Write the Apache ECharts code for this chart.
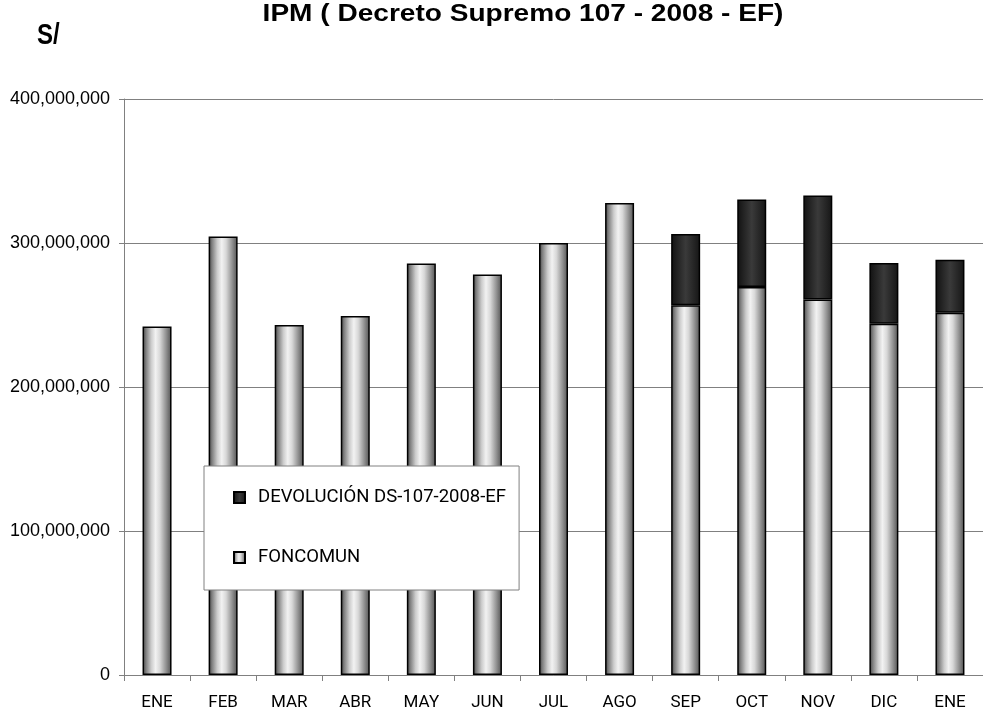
<!DOCTYPE html>
<html>
<head>
<meta charset="utf-8">
<script src="https://cdn.jsdelivr.net/npm/echarts@6/dist/echarts.min.js"></script>
<style>
  html, body { margin: 0; padding: 0; background: #fff; }
  #main { width: 983px; height: 711px; }
</style>
</head>
<body>
<div id="main"></div>
<script>
var chartDom = document.getElementById('main');
var myChart = echarts.init(chartDom);
var option;

const months = ['ENE', 'FEB', 'MAR', 'ABR', 'MAY', 'JUN', 'JUL', 'AGO', 'SEP', 'OCT', 'NOV', 'DIC', 'ENE'];
// soles
const foncomun = [
  242000000, 304500000, 243000000, 249300000, 285800000, 278200000, 300000000,
  327700000, 256700000, 269400000, 260700000, 244000000, 251600000
];
const devolucion = [
  0, 0, 0, 0, 0, 0, 0, 0, 49500000, 60800000, 72300000, 42100000, 36800000
];
const yTicks = [0, 100000000, 200000000, 300000000, 400000000];

const lightBar = new echarts.graphic.LinearGradient(0, 0, 1, 0, [
  { offset: 0, color: '#404040' },
  { offset: 0.12, color: '#808080' },
  { offset: 0.3, color: '#cccccc' },
  { offset: 0.45, color: '#f2f2f2' },
  { offset: 0.6, color: '#d8d8d8' },
  { offset: 0.8, color: '#959595' },
  { offset: 1, color: '#505050' }
]);
const darkBar = new echarts.graphic.LinearGradient(0, 0, 1, 0, [
  { offset: 0, color: '#111111' },
  { offset: 0.5, color: '#3a3a3a' },
  { offset: 1, color: '#151515' }
]);

option = {
  backgroundColor: '#fff',
  animation: false,
  textStyle: { fontFamily: 'Liberation Sans, Arial, sans-serif' },
  graphic: {
    elements: [
      {
        type: 'text',
        x: 523,
        y: 15,
        scaleX: 1.22,
        style: {
          text: 'IPM ( Decreto Supremo 107 - 2008 - EF)',
          font: 'bold 23px "Liberation Sans", Arial, sans-serif',
          fill: '#000',
          align: 'center',
          verticalAlign: 'middle'
        }
      },
      {
        type: 'text',
        x: 37,
        y: 36,
        scaleX: 0.8,
        style: {
          text: 'S/',
          font: 'bold 30px "Liberation Sans", Arial, sans-serif',
          fill: '#000',
          align: 'left',
          verticalAlign: 'middle'
        }
      }
    ]
  },
  legend: {
    data: ['DEVOLUCIÓN DS-107-2008-EF', 'FONCOMUN'],
    orient: 'vertical',
    left: 204,
    top: 466,
    icon: 'rect',
    itemWidth: 11,
    itemHeight: 11,
    itemGap: 41,
    padding: [22, 13, 23, 29],
    backgroundColor: '#fff',
    borderColor: '#808080',
    borderWidth: 1,
    borderRadius: 0,
    textStyle: { fontSize: 18.5, color: '#000', fontFamily: 'Roboto', padding: [0, 0, 0, 8] }
  },
  grid: {
    left: 124,
    top: 99,
    width: 871,
    height: 577,
    containLabel: false
  },
  xAxis: {
    type: 'category',
    data: months,
    boundaryGap: true,
    axisLine: { show: true, lineStyle: { color: '#808080', width: 1 } },
    axisTick: { show: true, length: 6, lineStyle: { color: '#808080' } },
    axisLabel: { fontSize: 17, color: '#000', margin: 19, interval: 0, fontFamily: 'Roboto' },
    splitLine: { show: false }
  },
  yAxis: {
    type: 'value',
    min: yTicks[0],
    max: yTicks[yTicks.length - 1],
    interval: yTicks[1] - yTicks[0],
    axisLine: { show: true, lineStyle: { color: '#808080', width: 1 } },
    axisTick: { show: true, length: 5, lineStyle: { color: '#808080' } },
    axisLabel: {
      fontSize: 18,
      color: '#000',
      margin: 14,
      formatter: function (v) {
        return v.toString().replace(/\B(?=(\d{3})+(?!\d))/g, ',');
      }
    },
    splitLine: { show: true, lineStyle: { color: '#808080', width: 1 } }
  },
  series: [
    {
      name: 'FONCOMUN',
      type: 'bar',
      stack: 'total',
      barWidth: 29,
      data: foncomun,
      itemStyle: { color: lightBar, borderColor: '#000', borderWidth: 1.5 }
    },
    {
      name: 'DEVOLUCIÓN DS-107-2008-EF',
      type: 'bar',
      stack: 'total',
      barWidth: 29,
      data: devolucion.map(function (v) { return v === 0 ? null : v; }),
      itemStyle: { color: darkBar, borderColor: '#000', borderWidth: 1.5 }
    }
  ]
};

option && myChart.setOption(option);
</script>
</body>
</html>
